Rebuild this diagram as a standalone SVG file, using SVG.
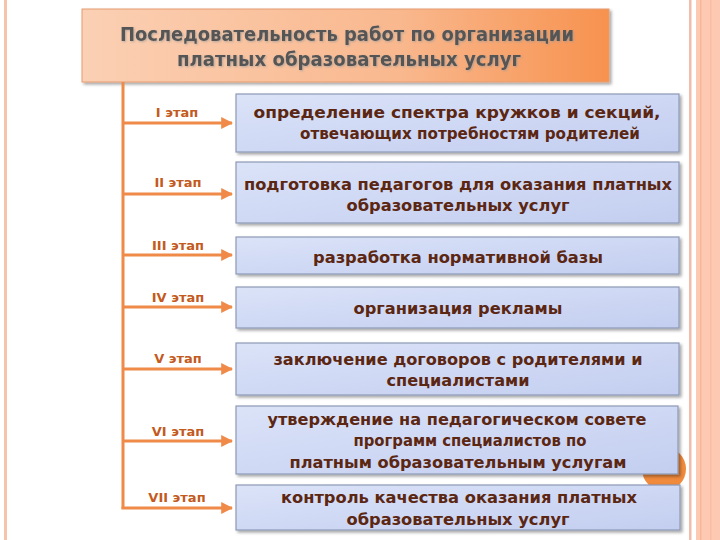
<svg xmlns="http://www.w3.org/2000/svg" width="720" height="540" viewBox="0 0 720 540">
<defs>
<linearGradient id="gTitle" x1="0" y1="0" x2="1" y2="0">
<stop offset="0" stop-color="#fbd0b4"/>
<stop offset="0.6" stop-color="#f9b88e"/>
<stop offset="1" stop-color="#f7924f"/>
</linearGradient>
<linearGradient id="gBox" x1="0" y1="0" x2="1" y2="1">
<stop offset="0" stop-color="#dbe3f8"/>
<stop offset="1" stop-color="#c3cef0"/>
</linearGradient>
<filter id="sh" x="-5%" y="-10%" width="110%" height="130%">
<feDropShadow dx="2" dy="2" stdDeviation="1.5" flood-color="#000" flood-opacity="0.35"/>
</filter>
<filter id="tsh" x="-5%" y="-20%" width="110%" height="140%">
<feDropShadow dx="1" dy="1" stdDeviation="0.8" flood-color="#999" flood-opacity="0.7"/>
</filter>
<marker id="arr" viewBox="0 0 10 10" refX="9" refY="5" markerWidth="4" markerHeight="4" orient="auto" markerUnits="strokeWidth">
<path d="M0,0 L10,5 L0,10 z" fill="#ef8a48"/>
</marker>
<style>
.box{fill:url(#gBox);stroke:#8d99b5;stroke-width:1.2;filter:url(#sh)}
.bt{font-family:"DejaVu Sans",Verdana,sans-serif;font-weight:bold;font-size:16px;fill:#5b2612;text-anchor:middle}
.lbl{font-family:"DejaVu Sans",Verdana,sans-serif;font-weight:bold;font-size:13px;fill:#c35a1e;text-anchor:middle}
.tt{font-family:"DejaVu Sans",Verdana,sans-serif;font-weight:bold;font-size:19px;fill:#555555;text-anchor:middle;filter:url(#tsh)}
.ln{stroke:#ef8a48;stroke-width:3;fill:none}
</style>
</defs>
<rect x="0" y="0" width="720" height="540" fill="#ffffff"/>
<rect x="4" y="0" width="3" height="540" fill="#f6c3ab"/>
<rect x="689" y="0" width="2.5" height="540" fill="#f2bcad"/>
<rect x="696" y="0" width="24" height="540" fill="#fdc9b2"/>
<rect x="700" y="0" width="1.5" height="540" fill="#f9b79a"/>
<rect x="710" y="0" width="1.5" height="540" fill="#fbbea3"/>
<circle cx="664" cy="469" r="22" fill="#f08a3c"/>
<g id="title">
<rect x="82" y="9" width="527" height="73" fill="url(#gTitle)" stroke="#e59c70" stroke-width="1" filter="url(#sh)"/>
<text class="tt" x="347" y="41" textLength="454" lengthAdjust="spacingAndGlyphs">Последовательность работ по организации</text>
<text class="tt" x="349" y="66" textLength="344" lengthAdjust="spacingAndGlyphs">платных образовательных услуг</text>
</g>
<g id="connectors">
<path class="ln" d="M123,82 V509"/>
<path class="ln" d="M123,123 H232" marker-end="url(#arr)"/>
<path class="ln" d="M123,194 H232" marker-end="url(#arr)"/>
<path class="ln" d="M123,255 H232" marker-end="url(#arr)"/>
<path class="ln" d="M123,307 H232" marker-end="url(#arr)"/>
<path class="ln" d="M123,369 H232" marker-end="url(#arr)"/>
<path class="ln" d="M123,441 H232" marker-end="url(#arr)"/>
<path class="ln" d="M121.5,508 H232" marker-end="url(#arr)"/>
<text class="lbl" x="177" y="117">I этап</text>
<text class="lbl" x="178" y="187">II этап</text>
<text class="lbl" x="178" y="250">III этап</text>
<text class="lbl" x="178" y="302">IV этап</text>
<text class="lbl" x="178" y="363">V этап</text>
<text class="lbl" x="178" y="436">VI этап</text>
<text class="lbl" x="177" y="502">VII этап</text>
</g>
<g id="stage1">
<rect class="box" x="236" y="94" width="443" height="58"/>
<text class="bt" x="457" y="118" textLength="407" lengthAdjust="spacingAndGlyphs">определение  спектра  кружков  и  секций,</text>
<text class="bt" x="470" y="139" textLength="340" lengthAdjust="spacingAndGlyphs">отвечающих  потребностям родителей</text>
</g>
<g id="stage2">
<rect class="box" x="236" y="162" width="443" height="61"/>
<text class="bt" x="458" y="190" textLength="428" lengthAdjust="spacingAndGlyphs">подготовка педагогов для оказания платных</text>
<text class="bt" x="458" y="211" textLength="223" lengthAdjust="spacingAndGlyphs">образовательных услуг</text>
</g>
<g id="stage3">
<rect class="box" x="236" y="237" width="443" height="37"/>
<text class="bt" x="458" y="263" textLength="290" lengthAdjust="spacingAndGlyphs">разработка нормативной базы</text>
</g>
<g id="stage4">
<rect class="box" x="236" y="287" width="443" height="41"/>
<text class="bt" x="458" y="314" textLength="209" lengthAdjust="spacingAndGlyphs">организация рекламы</text>
</g>
<g id="stage5">
<rect class="box" x="236" y="343" width="443" height="52"/>
<text class="bt" x="458" y="365" textLength="369" lengthAdjust="spacingAndGlyphs">заключение договоров с родителями и</text>
<text class="bt" x="458" y="386" textLength="143" lengthAdjust="spacingAndGlyphs">специалистами</text>
</g>
<g id="stage6">
<rect class="box" x="236" y="406" width="442" height="68"/>
<text class="bt" x="457" y="425" textLength="379" lengthAdjust="spacingAndGlyphs">утверждение на педагогическом совете</text>
<text class="bt" x="470" y="446" textLength="233" lengthAdjust="spacingAndGlyphs">программ специалистов по</text>
<text class="bt" x="458" y="468" textLength="337" lengthAdjust="spacingAndGlyphs">платным образовательным услугам</text>
</g>
<g id="stage7">
<rect class="box" x="236" y="485" width="444" height="45"/>
<text class="bt" x="459" y="503" textLength="356" lengthAdjust="spacingAndGlyphs">контроль качества оказания платных</text>
<text class="bt" x="458" y="525" textLength="223" lengthAdjust="spacingAndGlyphs">образовательных услуг</text>
</g>
</svg>
